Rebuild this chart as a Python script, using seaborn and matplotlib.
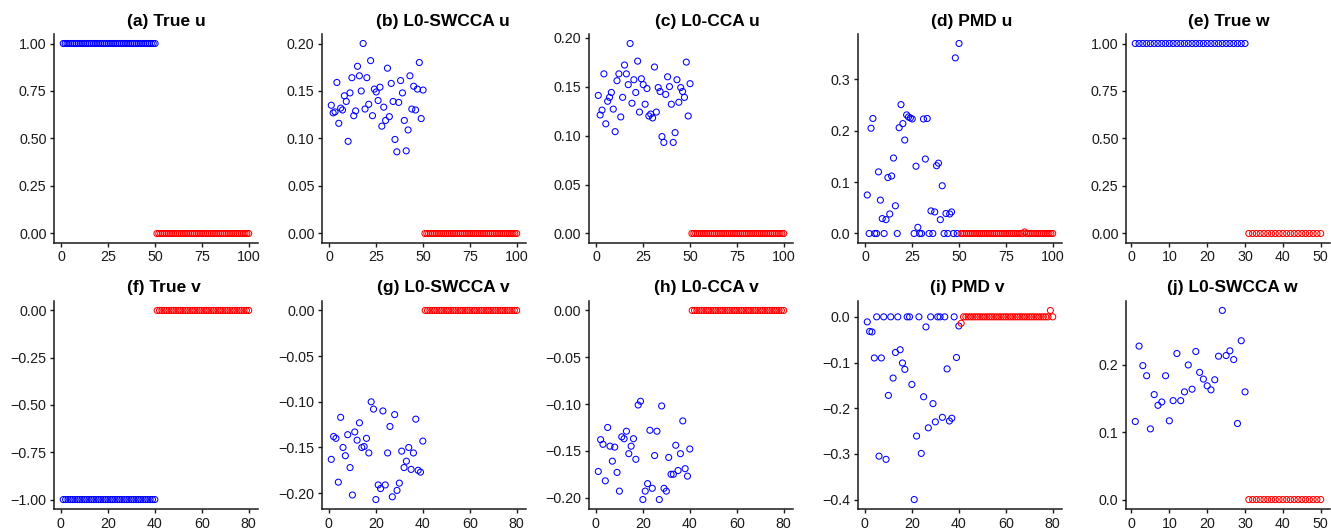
import numpy as np
import pandas as pd
import matplotlib
matplotlib.use("Agg")
import matplotlib.pyplot as plt
import seaborn as sns
from matplotlib.ticker import FuncFormatter

# ---------------- data ----------------
u_true = [1.0] * 50 + [0.0] * 50
u_swcca = [0.135, 0.127, 0.128, 0.159, 0.116, 0.132, 0.130, 0.145, 0.139, 0.097,
           0.148, 0.164, 0.124, 0.129, 0.176, 0.166, 0.150, 0.200, 0.131, 0.164,
           0.136, 0.182, 0.124, 0.152, 0.149, 0.140, 0.154, 0.113, 0.133, 0.119,
           0.174, 0.123, 0.158, 0.139, 0.099, 0.086, 0.138, 0.161, 0.148, 0.119,
           0.087, 0.109, 0.166, 0.131, 0.155, 0.130, 0.152, 0.180, 0.121, 0.151] + [0.0] * 50
u_cca = [0.141, 0.121, 0.126, 0.163, 0.112, 0.135, 0.139, 0.144, 0.127, 0.104,
         0.156, 0.163, 0.119, 0.139, 0.172, 0.163, 0.152, 0.194, 0.133, 0.157,
         0.144, 0.176, 0.124, 0.158, 0.152, 0.132, 0.148, 0.120, 0.122, 0.118,
         0.170, 0.124, 0.149, 0.145, 0.099, 0.093, 0.142, 0.160, 0.150, 0.132,
         0.093, 0.103, 0.157, 0.134, 0.149, 0.145, 0.139, 0.175, 0.120, 0.153] + [0.0] * 50
u_pmd = [0.075, 0.0, 0.205, 0.224, 0.0, 0.0, 0.120, 0.065, 0.029, 0.0,
         0.027, 0.109, 0.038, 0.112, 0.147, 0.054, 0.0, 0.206, 0.251, 0.214,
         0.182, 0.231, 0.227, 0.225, 0.223, 0.0, 0.131, 0.012, 0.0, 0.0,
         0.223, 0.145, 0.224, 0.0, 0.044, 0.0, 0.042, 0.132, 0.137, 0.027,
         0.093, 0.0, 0.039, 0.0, 0.038, 0.042, 0.0, 0.342, 0.0, 0.370] + \
        [0.0] * 34 + [0.003] + [0.0] * 15
w_true = [1.0] * 30 + [0.0] * 20

v_true = [-1.0] * 40 + [0.0] * 40
v_swcca = [-0.163, -0.138, -0.140, -0.188, -0.117, -0.150, -0.159, -0.136, -0.172, -0.202,
           -0.133, -0.142, -0.123, -0.150, -0.149, -0.140, -0.156, -0.100, -0.108, -0.207,
           -0.191, -0.195, -0.110, -0.191, -0.156, -0.127, -0.204, -0.114, -0.197, -0.189,
           -0.154, -0.172, -0.165, -0.150, -0.174, -0.156, -0.119, -0.175, -0.177, -0.143] + [0.0] * 40
v_cca = [-0.172, -0.138, -0.143, -0.182, -0.125, -0.145, -0.161, -0.146, -0.173, -0.193,
         -0.135, -0.137, -0.129, -0.153, -0.145, -0.137, -0.159, -0.101, -0.097, -0.202,
         -0.193, -0.185, -0.128, -0.190, -0.155, -0.129, -0.202, -0.102, -0.190, -0.193,
         -0.157, -0.175, -0.175, -0.144, -0.171, -0.153, -0.118, -0.169, -0.177, -0.148] + [0.0] * 40
v_pmd = [-0.011, -0.032, -0.033, -0.090, 0.0, -0.305, -0.090, 0.0, -0.312, -0.172,
         0.0, -0.134, -0.078, 0.0, -0.072, -0.101, -0.115, 0.0, 0.0, -0.148,
         -0.400, -0.261, 0.0, -0.299, -0.175, -0.022, -0.243, 0.0, -0.190, -0.230,
         0.0, 0.0, -0.220, 0.0, -0.114, -0.228, -0.222, 0.0, -0.089, -0.020] + \
        [-0.014] + [0.0] * 37 + [0.014, 0.0]
w_swcca = [0.116, 0.228, 0.199, 0.184, 0.105, 0.156, 0.140, 0.145, 0.184, 0.117,
           0.147, 0.217, 0.147, 0.160, 0.200, 0.164, 0.220, 0.189, 0.179, 0.169,
           0.163, 0.178, 0.213, 0.281, 0.214, 0.221, 0.208, 0.113, 0.236, 0.160] + [0.0] * 20

titles = ["(a) True u", "(b) L0-SWCCA u", "(c) L0-CCA u", "(d) PMD u", "(e) True w",
          "(f) True v", "(g) L0-SWCCA v", "(h) L0-CCA v", "(i) PMD v", "(j) L0-SWCCA w"]
series = [u_true, u_swcca, u_cca, u_pmd, w_true,
          v_true, v_swcca, v_cca, v_pmd, w_swcca]
n_signal = [50, 50, 50, 50, 30, 40, 40, 40, 40, 30]
xticks_u = [0, 25, 50, 75, 100]
xticks_v = [0, 20, 40, 60, 80]
xticks_w = [0, 10, 20, 30, 40, 50]
xticks = [xticks_u] * 4 + [xticks_w] + [xticks_v] * 4 + [xticks_w]
yticks = [[0, 0.25, 0.5, 0.75, 1.0], [0, 0.05, 0.10, 0.15, 0.20], [0, 0.05, 0.10, 0.15, 0.20],
          [0, 0.1, 0.2, 0.3], [0, 0.25, 0.5, 0.75, 1.0],
          [-1.0, -0.75, -0.5, -0.25, 0], [-0.20, -0.15, -0.10, -0.05, 0], [-0.20, -0.15, -0.10, -0.05, 0],
          [-0.4, -0.3, -0.2, -0.1, 0.0], [0.0, 0.1, 0.2]]
ydec = [2, 2, 2, 1, 2, 2, 2, 2, 1, 1]

# ---------------- layout (pixels) ----------------
W, H = 1331, 529
lefts = [54, 322, 589, 858, 1126]
ax_w = 204
rows = [(34, 243), (301, 509)]
title_cx = [166, 443, 707, 972, 1229, 164, 443, 706, 967, 1232]
title_base = [26, 26, 26, 26, 26, 292, 292, 292, 292, 292]

sns.set_style("ticks")
plt.rcParams['font.family'] = ['Liberation Sans', 'DejaVu Sans']
plt.rcParams['axes.unicode_minus'] = True

fig = plt.figure(figsize=(W / 100, H / 100), dpi=100)

BLUE = "#0000FF"
RED = "#FF0000"
INK = "#1a1a1a"


def make_fmt(dec):
    def f(v, pos):
        s = f"{v:.{dec}f}"
        if s.startswith("-") and float(s) == 0:
            s = s[1:]
        return s.replace("-", "\u2212")
    return FuncFormatter(f)


for i in range(10):
    r, c = divmod(i, 5)
    top, bot = rows[r]
    ax = fig.add_axes([lefts[c] / W, 1 - bot / H, ax_w / W, (bot - top) / H])
    vals = np.asarray(series[i], dtype=float)
    idx = np.arange(1, len(vals) + 1)
    df = pd.DataFrame({"idx": idx, "val": vals,
                       "grp": np.where(idx <= n_signal[i], "signal", "noise")})
    for grp, col in [("signal", BLUE), ("noise", RED)]:
        sub = df[df["grp"] == grp]
        sns.scatterplot(data=sub, x="idx", y="val", ax=ax, color=col, s=19,
                        linewidth=0.75, legend=False)
        coll = ax.collections[-1]
        coll.set_facecolor("none")
        coll.set_edgecolor(col)
        coll.set_linewidth(0.75)
    xr = idx.max() - idx.min()
    ax.set_xlim(idx.min() - 0.05 * xr, idx.max() + 0.05 * xr)
    yr = vals.max() - vals.min()
    ax.set_ylim(vals.min() - 0.05 * yr, vals.max() + 0.05 * yr)
    ax.set_xticks(xticks[i])
    ax.set_yticks(yticks[i])
    ax.yaxis.set_major_formatter(make_fmt(ydec[i]))
    ax.set_xlabel("")
    ax.set_ylabel("")
    sns.despine(ax=ax)
    for sp in ["left", "bottom"]:
        ax.spines[sp].set_linewidth(1.1)
        ax.spines[sp].set_color(INK)
    ax.tick_params(axis="both", labelsize=10.3, length=3, width=1.0, pad=2.4,
                   color=INK, labelcolor=INK)
    fig.text(title_cx[i] / W, 1 - title_base[i] / H, titles[i], ha="center", va="baseline",
             fontsize=12.5, fontweight="bold", color="black")

fig.savefig("out.png", dpi=100)
